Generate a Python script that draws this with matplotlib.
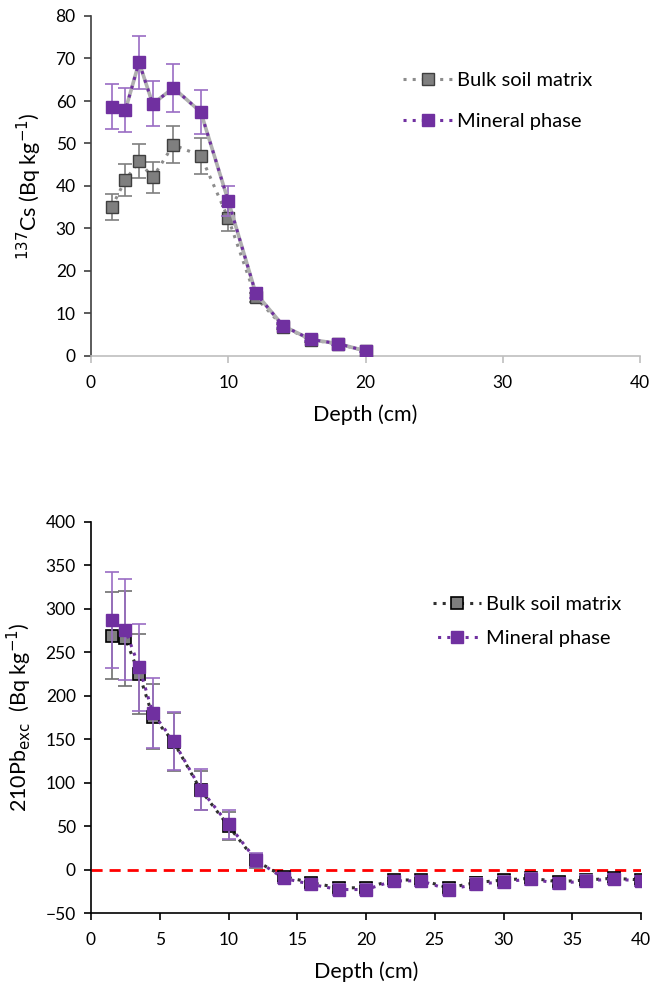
import matplotlib
matplotlib.use("Agg")
import matplotlib.pyplot as plt

plt.rcParams['font.family'] = ['Lato', 'DejaVu Sans']

# 137Cs profile
cs_depth = [1.5, 2.5, 3.5, 4.5, 6, 8, 10, 12, 14, 16, 18, 20]
cs_bulk = [35.0, 41.4, 45.8, 42.0, 49.7, 47.1, 32.4, 13.8, 6.9, 3.8, 2.8, 1.2]
cs_bulk_err = [3.0, 3.8, 4.0, 3.7, 4.4, 4.2, 3.0, 1.0, 0.6, 0.4, 0.3, 0.2]
cs_mineral = [58.6, 57.8, 69.1, 59.3, 63.1, 57.4, 36.5, 14.8, 7.1, 3.9, 2.9, 1.2]
cs_mineral_err = [5.3, 5.2, 6.2, 5.3, 5.7, 5.2, 3.5, 1.2, 0.6, 0.4, 0.3, 0.2]

# 210Pb excess profile
pb_depth = [1.5, 2.5, 3.5, 4.5, 6, 8, 10, 12, 14, 16, 18, 20, 22, 24, 26, 28,
            30, 32, 34, 36, 38, 40]
pb_bulk = [269, 266, 225, 176, 147, 91, 50, 10, -8, -15, -21, -21, -12, -12,
           -21, -15, -12, -10, -14, -12, -10, -12]
pb_bulk_err = [50, 55, 46, 37, 33, 23, 16, 8, 5, 5, 5, 5, 5, 5, 5, 6, 6, 6,
               5, 6, 5, 5]
pb_mineral = [287, 276, 233, 180, 148, 92, 52, 11, -10, -17, -23, -23, -13,
              -13, -23, -17, -14, -11, -16, -13, -11, -13]
pb_mineral_err = [55, 58, 50, 40, 33, 24, 17, 8, 6, 6, 6, 6, 6, 6, 6, 7, 7, 7,
                  6, 7, 6, 6]

series_labels = ["Bulk soil matrix", "Mineral phase"]

purple = "#7030a0"
purple_err = "#9a6cc4"
gray_fill = "#7f7f7f"
gray_line = "#8c8c8c"

fig = plt.figure(figsize=(6.55, 9.85), dpi=100)

# ---------- upper panel ----------
ax1 = fig.add_axes([91 / 655, 1 - 356 / 985, 549 / 655, 340 / 985])
ax1.errorbar(cs_depth, cs_bulk, yerr=cs_bulk_err, fmt='none', ecolor=gray_fill,
             elinewidth=1.2, capsize=5, capthick=1.2, zorder=2)
ax1.plot(cs_depth, cs_bulk, linestyle=(0, (1, 2)), color=gray_line, lw=2.2,
         marker='s', ms=8.5, mfc=gray_fill, mec="#3f3f3f", mew=1.0,
         label=series_labels[0], zorder=3)
ax1.errorbar(cs_depth, cs_mineral, yerr=cs_mineral_err, fmt='none',
             ecolor=purple_err, elinewidth=1.2, capsize=5, capthick=1.2, zorder=4)
ax1.plot(cs_depth, cs_mineral, linestyle='-', color="#b0b0b0", lw=2.6, zorder=4)
ax1.plot(cs_depth, cs_mineral, linestyle=(0, (1, 2)), color=purple, lw=2.2,
         marker='s', ms=8.5, mfc=purple, mec=purple, mew=1.0,
         label=series_labels[1], zorder=5)

ax1.set_xlim(0, 40)
ax1.set_ylim(0, 80)
ax1.set_xticks(range(0, 41, 10))
ax1.set_yticks(range(0, 81, 10))
for s in ("top", "right"):
    ax1.spines[s].set_visible(False)
ax1.spines["left"].set_color("#404040")
ax1.spines["bottom"].set_color("#bfbfbf")
ax1.spines["left"].set_linewidth(1.2)
ax1.spines["bottom"].set_linewidth(1.2)
ax1.tick_params(axis='y', direction='out', length=5, width=1.2, color="#404040",
                labelsize=12.5, pad=6)
ax1.tick_params(axis='x', direction='out', length=5, width=1.2, color="#bfbfbf",
                labelsize=12.5, pad=9)
ax1.set_xlabel("Depth (cm)", fontsize=15.5, labelpad=9)
ax1.set_ylabel(r"$^{137}$Cs (Bq kg$^{-1}$)", fontsize=15.5, labelpad=8)
ax1.legend(loc="center left", bbox_to_anchor=(0.536, 0.751), frameon=False,
           fontsize=14.5, handlelength=2.4, labelspacing=1.2,
           handletextpad=0.25)

# ---------- lower panel ----------
ax2 = fig.add_axes([91 / 655, 1 - 913 / 985, 550 / 655, 391 / 985])
ax2.axhline(0, color="#ff0000", linestyle=(0, (4, 2.5)), lw=2.0, zorder=1)
ax2.errorbar(pb_depth, pb_bulk, yerr=pb_bulk_err, fmt='none', ecolor="#6f6f6f",
             elinewidth=1.2, capsize=5, capthick=1.2, zorder=2)
ax2.plot(pb_depth, pb_bulk, linestyle=(0, (1, 2)), color="#303030", lw=2.2,
         marker='s', ms=8.5, mfc=gray_fill, mec="#000000", mew=1.2,
         label=series_labels[0], zorder=3)
ax2.errorbar(pb_depth, pb_mineral, yerr=pb_mineral_err, fmt='none',
             ecolor=purple_err, elinewidth=1.2, capsize=5, capthick=1.2, zorder=4)
ax2.plot(pb_depth, pb_mineral, linestyle=(1.5, (1, 2)), color=purple, lw=2.2,
         marker='s', ms=8.5, mfc=purple, mec=purple, mew=1.0,
         label=series_labels[1], zorder=5)

ax2.set_xlim(0, 40)
ax2.set_ylim(-50, 400)
ax2.set_xticks(range(0, 41, 5))
ax2.set_yticks(range(-50, 401, 50))
for s in ("top", "right"):
    ax2.spines[s].set_visible(False)
for s in ("left", "bottom"):
    ax2.spines[s].set_color("#000000")
    ax2.spines[s].set_linewidth(1.2)
ax2.tick_params(axis='y', direction='out', length=5, width=1.2,
                labelsize=12.5, pad=6)
ax2.tick_params(axis='x', direction='out', length=5, width=1.2,
                labelsize=12.5, pad=9)
ax2.set_xlabel("Depth (cm)", fontsize=15.5, labelpad=9)
ax2.set_ylabel(r"210Pb$_{\mathrm{exc}}$  (Bq kg$^{-1}$)", fontsize=15.5,
               labelpad=8)
ax2.legend(loc="center left", bbox_to_anchor=(0.589, 0.7455), frameon=False,
           fontsize=14.5, handlelength=2.4, labelspacing=0.85,
           handletextpad=0.25)

fig.savefig("out.png", dpi=100)
